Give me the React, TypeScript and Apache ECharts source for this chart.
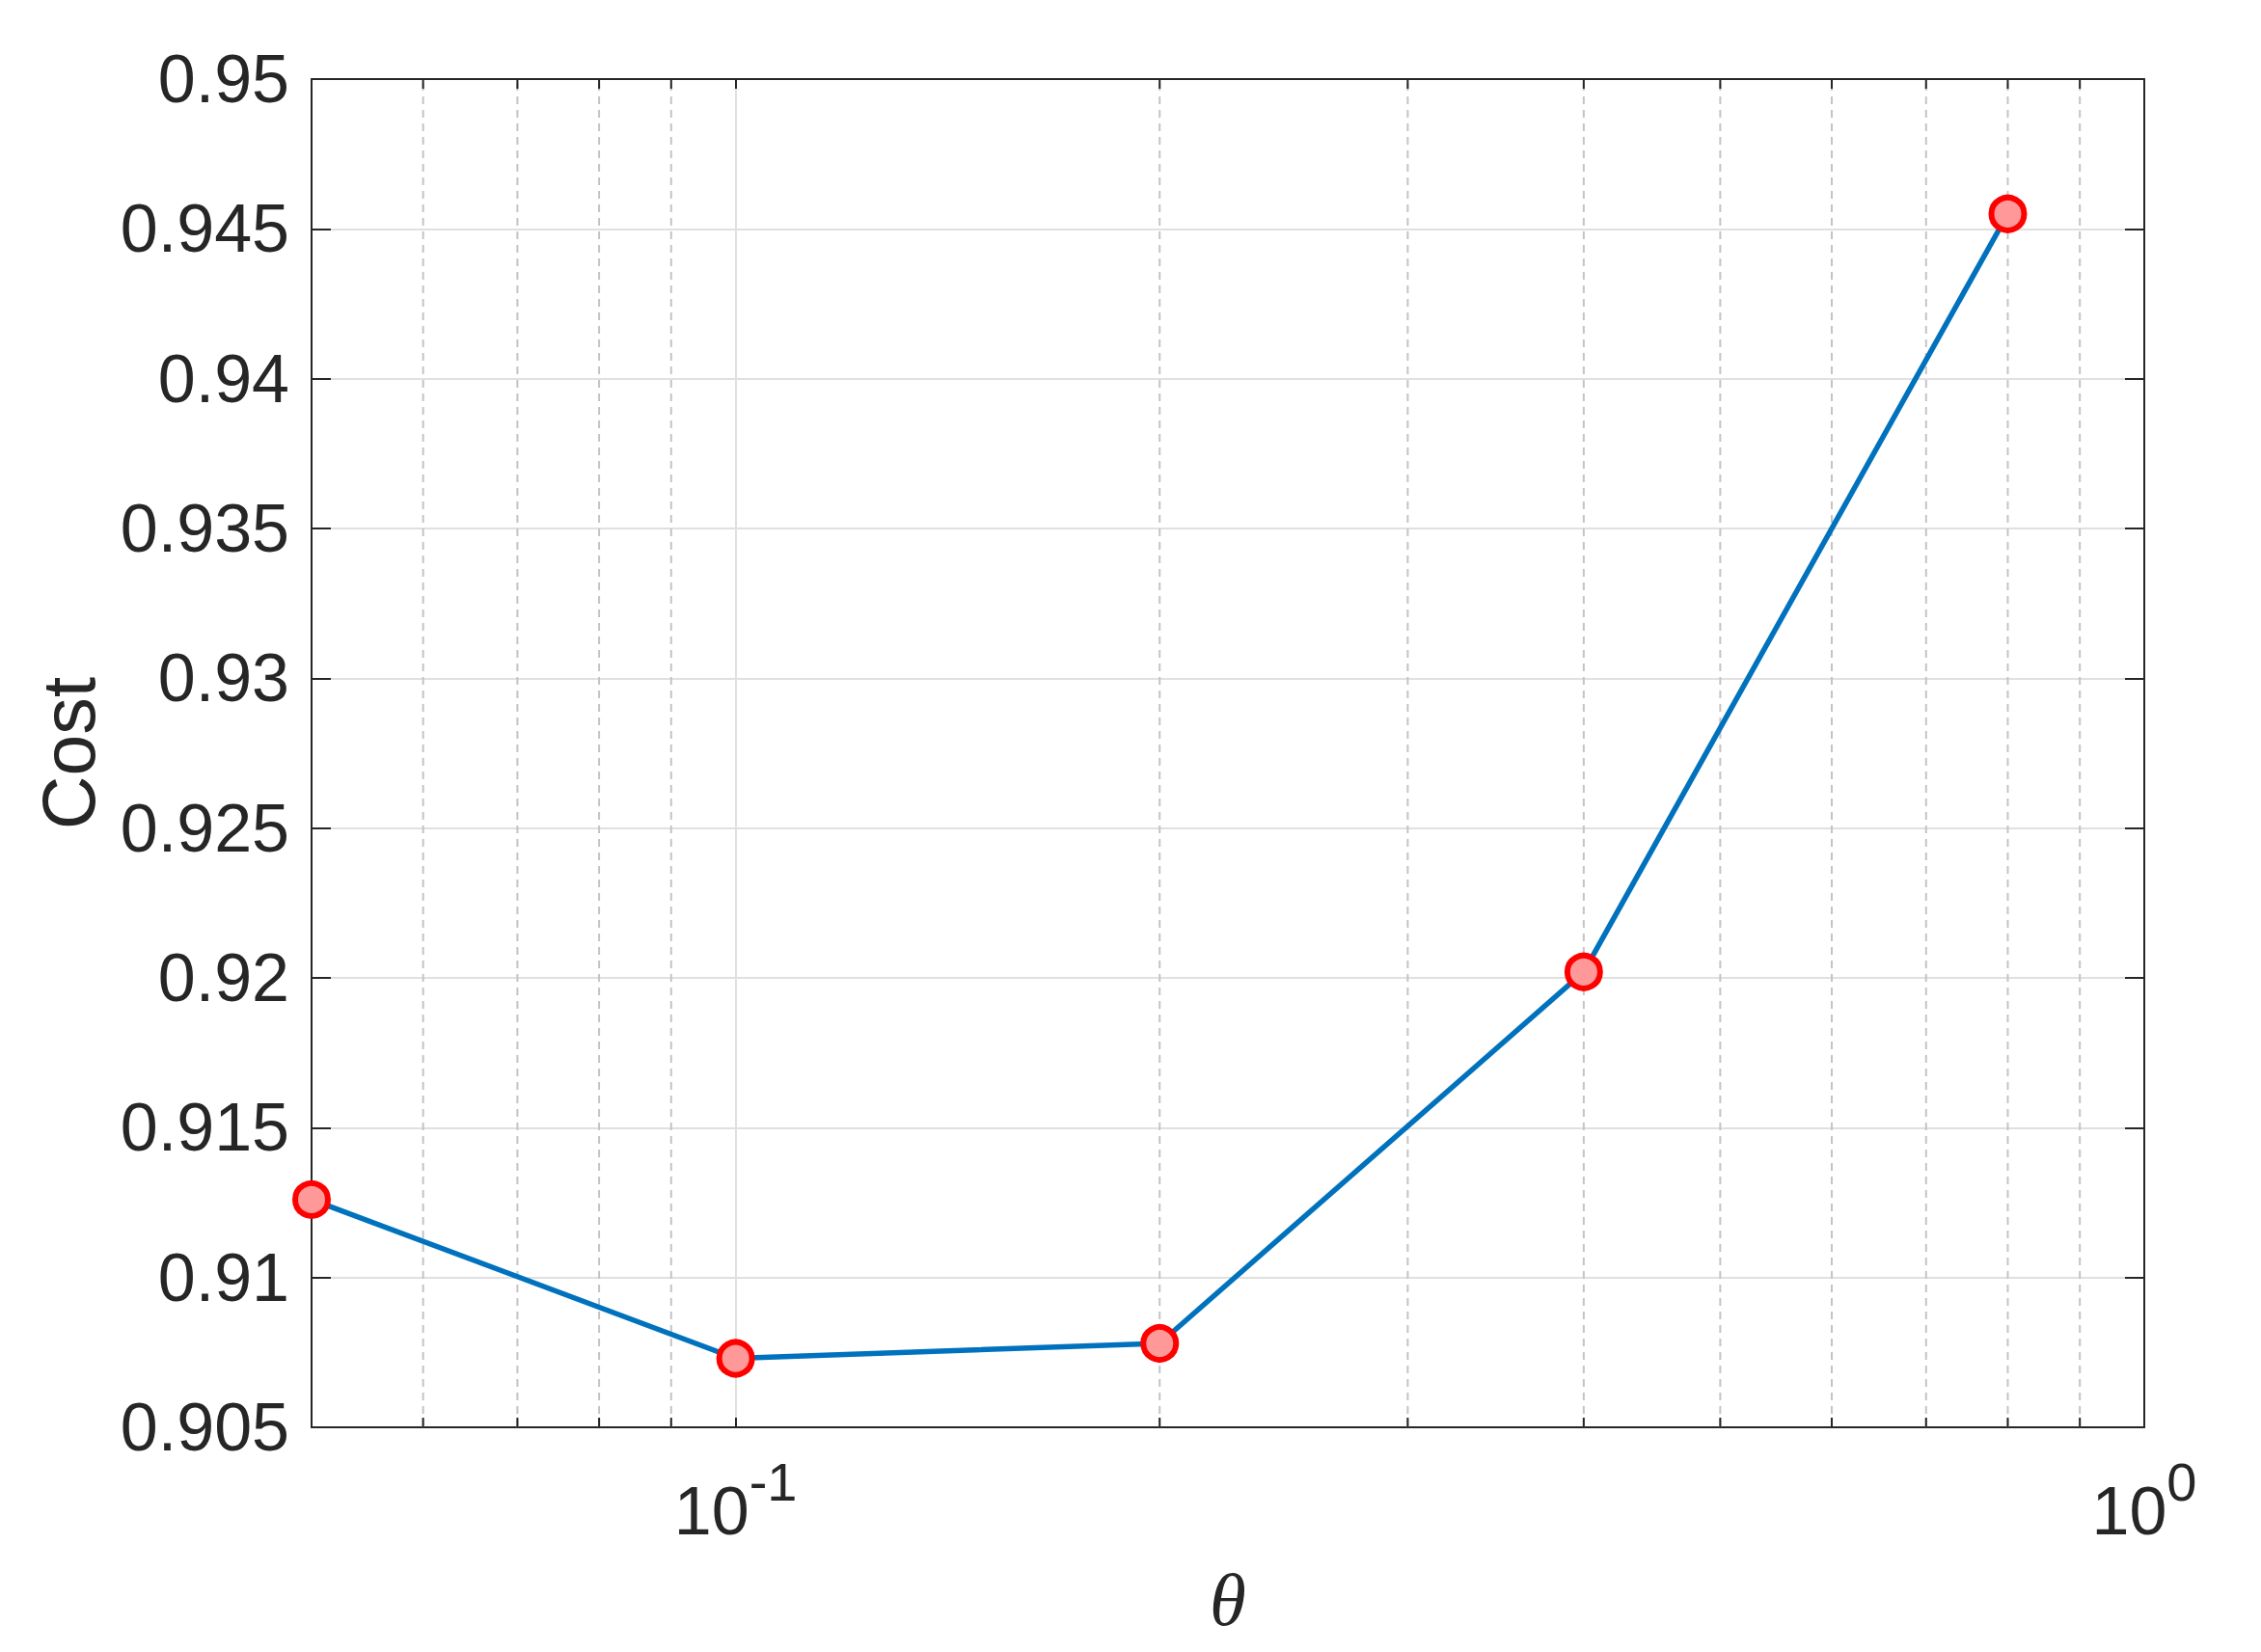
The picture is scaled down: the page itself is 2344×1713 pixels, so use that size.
import React, { useEffect, useRef } from 'react';
import * as echarts from 'echarts';

// ---- data ----
const thetaValues = [0.05, 0.1, 0.2, 0.4, 0.8];
const costValues = [0.9126, 0.9073, 0.9078, 0.9202, 0.9455];
const xMin = 0.05;
const xMax = 1;
const yMin = 0.905;
const yMax = 0.95;
const yStep = 0.005;
const minorXTicks = [0.06, 0.07, 0.08, 0.09, 0.2, 0.3, 0.4, 0.5, 0.6, 0.7, 0.8, 0.9];
const xAxisTitle = 'θ';
const yAxisTitle = 'Cost';

const TEXT = '#262626';
const SANS = '"Liberation Sans", Arial, Helvetica, sans-serif';

function logLabel(v: number): string {
  const l = Math.log10(v);
  const e = Math.round(l);
  if (Math.abs(l - e) > 1e-6) return '';
  return `{b|10}{s|${e}}`;
}

export default function App() {
  const ref = useRef<HTMLDivElement>(null);
  useEffect(() => {
    if (!ref.current) return;
    const chart = echarts.init(ref.current, null, { renderer: 'svg' });
    const boxLine = { show: true, onZero: false, lineStyle: { color: TEXT, width: 2 } };
    const option: any = {
      animation: false,
      backgroundColor: '#ffffff',
      grid: { left: 323, top: 82, right: 121, bottom: 233, containLabel: false },
      xAxis: [
        {
          type: 'log',
          logBase: 10,
          min: xMin,
          max: xMax,
          position: 'bottom',
          axisLine: boxLine,
          axisTick: { show: true, inside: true, length: 10, lineStyle: { color: TEXT, width: 2 } },
          axisLabel: {
            show: true,
            interval: 0,
            margin: 28,
            color: TEXT,
            fontFamily: SANS,
            formatter: (v: number) => logLabel(v),
            rich: {
              b: { fontSize: 70, lineHeight: 118, fontFamily: SANS, color: TEXT, verticalAlign: 'middle' },
              s: { fontSize: 56, lineHeight: 56, fontFamily: SANS, color: TEXT, verticalAlign: 'top' },
            },
          },
          splitLine: { show: true, lineStyle: { color: '#e0e0e0', width: 2 } },
          name: xAxisTitle,
          nameLocation: 'middle',
          nameGap: 140,
          nameTextStyle: { fontFamily: '"Liberation Serif", "Times New Roman", serif', fontStyle: 'italic', fontSize: 77, color: TEXT },
        },
        {
          type: 'log',
          logBase: 10,
          min: xMin,
          max: xMax,
          position: 'top',
          axisLine: boxLine,
          axisTick: { show: true, inside: true, length: 10, lineStyle: { color: TEXT, width: 2 } },
          axisLabel: { show: false },
          splitLine: { show: false },
        },
      ],
      yAxis: [
        {
          type: 'value',
          min: yMin,
          max: yMax,
          interval: yStep,
          position: 'left',
          axisLine: boxLine,
          axisTick: { show: true, inside: true, length: 20, lineStyle: { color: TEXT, width: 2 } },
          axisLabel: {
            show: true,
            margin: 23,
            fontSize: 70,
            fontFamily: SANS,
            color: TEXT,
            formatter: (v: number) => String(+v.toFixed(3)),
          },
          splitLine: { show: true, lineStyle: { color: '#e0e0e0', width: 2 } },
          name: yAxisTitle,
          nameLocation: 'middle',
          nameGap: 214,
          nameRotate: 90,
          nameTextStyle: { fontFamily: SANS, fontSize: 77, color: TEXT },
        },
        {
          type: 'value',
          min: yMin,
          max: yMax,
          interval: yStep,
          position: 'right',
          axisLine: boxLine,
          axisTick: { show: true, inside: true, length: 20, lineStyle: { color: TEXT, width: 2 } },
          axisLabel: { show: false },
          splitLine: { show: false },
        },
      ],
      series: [
        {
          type: 'custom',
          xAxisIndex: 0,
          yAxisIndex: 0,
          z: 1,
          silent: true,
          encode: { x: 0, y: 1 },
          data: minorXTicks.map((v) => [v, yMin]),
          renderItem: (params: any, api: any) => {
            const v = api.value(0);
            const b = api.coord([v, yMin]);
            const t = api.coord([v, yMax]);
            return {
              type: 'group',
              children: [
                {
                  type: 'line',
                  shape: { x1: b[0], y1: b[1], x2: t[0], y2: t[1] },
                  style: { stroke: '#c4c4c4', lineWidth: 2, lineDash: [8, 6] },
                },
                {
                  type: 'line',
                  shape: { x1: b[0], y1: b[1], x2: b[0], y2: b[1] - 10 },
                  style: { stroke: TEXT, lineWidth: 2 },
                },
                {
                  type: 'line',
                  shape: { x1: t[0], y1: t[1], x2: t[0], y2: t[1] + 10 },
                  style: { stroke: TEXT, lineWidth: 2 },
                },
              ],
            };
          },
        },
        {
          type: 'line',
          xAxisIndex: 0,
          yAxisIndex: 0,
          z: 3,
          clip: false,
          data: thetaValues.map((x, i) => [x, costValues[i]]),
          lineStyle: { color: '#0072BD', width: 5.5 },
          symbol: 'circle',
          symbolSize: 34,
          itemStyle: { color: '#FF9999', borderColor: '#FF0000', borderWidth: 6 },
        },
      ],
    };
    chart.setOption(option);
    return () => chart.dispose();
  }, []);
  return (
    <div
      ref={ref}
      style={{ position: 'absolute', left: 0, top: 0, width: 2344, height: 1713, background: '#fff' }}
    />
  );
}
